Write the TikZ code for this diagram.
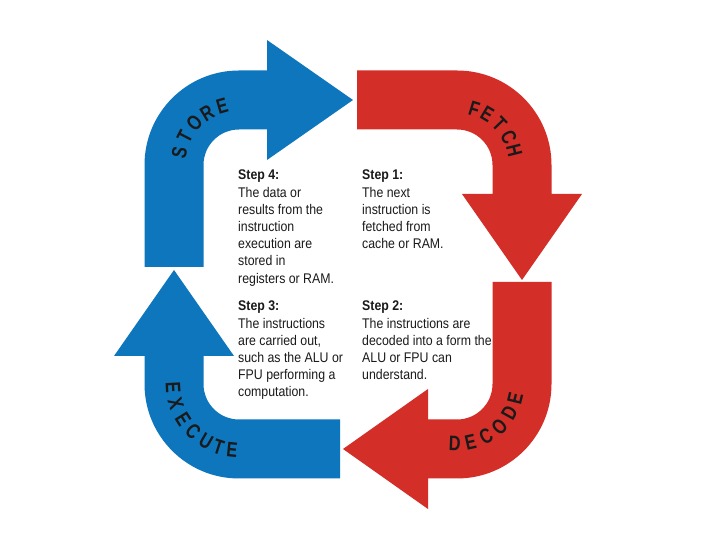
\documentclass[tikz,border=0pt]{standalone}
\usepackage{fontspec}
\setmainfont{Liberation Sans}[FakeStretch=0.88]
\newfontfamily\lblfont{Liberation Sans}[FakeStretch=0.78]
\definecolor{cpuBlue}{HTML}{0E76BC}
\definecolor{cpuRed}{HTML}{D42E28}
\definecolor{ink}{HTML}{1A1A1A}
\begin{document}
\begin{tikzpicture}[x=1pt,y=1pt,
  bluearrow/.style={fill=cpuBlue},
  redarrow/.style={fill=cpuRed},
  lbl/.style={font=\lblfont\bfseries\fontsize{21}{21}\selectfont, text=ink, inner sep=0pt},
  steptext/.style={font=\fontsize{14}{17.2}\selectfont, text=ink, align=left, inner sep=0pt, anchor=north west}]
\useasboundingbox (0,0) rectangle (720,540);
\fill[white] (0,0) rectangle (720,540);
% STORE (blue, top-left)
\fill[bluearrow] (144.5,273) -- (144.5,375) arc[start angle=180,end angle=90,radius=94.5]
  -- (267,469.5) -- (267,500) -- (353,440) -- (267,380) -- (267,410.5) -- (239,410.5)
  arc[start angle=90,end angle=180,radius=35.5] -- (203.5,273) -- cycle;
% FETCH (red, top-right)
\fill[redarrow] (357,469.5) -- (457,469.5) arc[start angle=90,end angle=0,radius=94.5]
  -- (551.5,346) -- (582,346) -- (522,260) -- (462,346) -- (492.5,346) -- (492.5,375)
  arc[start angle=0,end angle=90,radius=35.5] -- (357,410.5) -- cycle;
% DECODE (red, bottom-right)
\fill[redarrow] (551.5,258) -- (551.5,156) arc[start angle=0,end angle=-90,radius=94.5]
  -- (428,61.5) -- (428,31) -- (343,91) -- (428,151) -- (428,120.5) -- (457,120.5)
  arc[start angle=-90,end angle=0,radius=35.5] -- (492.5,258) -- cycle;
% EXECUTE (blue, bottom-left)
\fill[bluearrow] (340,120.5) -- (239,120.5) arc[start angle=-90,end angle=-180,radius=35.5]
  -- (203.5,184) -- (234,184) -- (174,270) -- (114,184) -- (144.5,184) -- (144.5,156)
  arc[start angle=180,end angle=270,radius=94.5] -- (340,61.5) -- cycle;
% curved labels
\foreach \ch/\a [count=\i] in {S/168,T/152.5,O/137,R/121.5,E/106}
  \node[lbl,rotate=\a-90] (st\i) at ([shift={(\a:61)}]239,375) {\ch};
\foreach \ch/\a [count=\i] in {F/73,E/59,T/44,C/28.5,H/14}
  \node[lbl,rotate=\a-90] (fe\i) at ([shift={(\a:59)}]457,375) {\ch};
\foreach \ch/\a [count=\i] in {D/-92,E/-77,C/-61,O/-45,D/-29,E/-14}
  \node[lbl,rotate=\a+90] (de\i) at ([shift={(\a:60)}]457,156) {\ch};
\foreach \ch/\a [count=\i] in {E/183,X/197,E/212,C/226,U/240,T/252,E/264}
  \node[lbl,rotate=\a+90] (ex\i) at ([shift={(\a:66)}]239,156) {\ch};
% step texts
\node[steptext] (s4) at (238,370) {\textbf{Step 4:}\\The data or\\results from the\\instruction\\execution are\\stored in\\registers or RAM.};
\node[steptext] (s1) at (362,370) {\textbf{Step 1:}\\The next\\instruction is\\fetched from\\cache or RAM.};
\node[steptext] (s3) at (238,239) {\textbf{Step 3:}\\The instructions\\are carried out,\\such as the ALU or\\FPU performing a\\computation.};
\node[steptext] (s2) at (362,239) {\textbf{Step 2:}\\The instructions are\\decoded into a form the\\ALU or FPU can\\understand.};
\end{tikzpicture}
\end{document}
